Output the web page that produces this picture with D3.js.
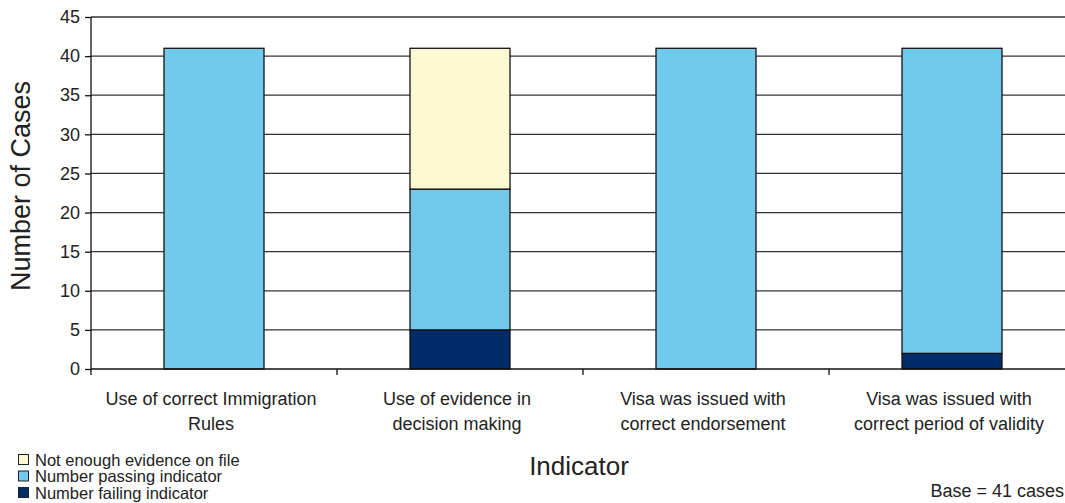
<!DOCTYPE html>
<html><head><meta charset="utf-8">
<script src="https://cdn.jsdelivr.net/npm/d3@7"></script>
<style>body{margin:0;background:#fff}svg{display:block}</style>
</head><body>
<svg id="c" width="1065" height="503"></svg>
<script>
const categories = [["Use of correct Immigration","Rules"],["Use of evidence in","decision making"],["Visa was issued with","correct endorsement"],["Visa was issued with","correct period of validity"]];
const failing = [0, 5, 0, 2];
const passing = [41, 18, 41, 39];
const notEnough = [0, 18, 0, 0];
const yTicks = [0,5,10,15,20,25,30,35,40,45];
const seriesNames = ["Not enough evidence on file","Number passing indicator","Number failing indicator"];
const colors = {fail:"#002D6A", pass:"#72C9EC", none:"#FCF8D2"};

(function(){
const svg = d3.select("#c");
const pl = 91, pr = 1075, pt = 17, pb = 369;
const x = d3.scaleBand().domain(d3.range(categories.length)).range([pl, pr]).paddingInner(0).paddingOuter(0);
const y = d3.scaleLinear().domain([0,45]).range([pb, pt]);
const bw = 100;
const FONT = "Liberation Sans, Arial, sans-serif";

// gridlines
svg.append("g").selectAll("line").data(yTicks.filter(d=>d>0)).join("line")
  .attr("x1", pl).attr("x2", pr).attr("y1", d=>y(d)).attr("y2", d=>y(d))
  .attr("stroke","#333").attr("stroke-width",1.3);

// stacked bars
const rows = categories.map((c,i)=>({i, fail:failing[i], pass:passing[i], none:notEnough[i]}));
const stack = d3.stack().keys(["fail","pass","none"])(rows);
svg.append("g").selectAll("g").data(stack).join("g")
  .attr("fill", d=>colors[d.key])
  .selectAll("rect").data(d=>d.filter(s=>s[1]-s[0]>0)).join("rect")
  .attr("x", d=>x(d.data.i)+x.bandwidth()/2-bw/2).attr("width", bw)
  .attr("y", d=>y(d[1])).attr("height", d=>y(d[0])-y(d[1]))
  .attr("stroke","#111").attr("stroke-width",1.3);

// y axis
const ya = svg.append("g").attr("transform",`translate(${pl},0)`)
  .call(d3.axisLeft(y).tickValues(yTicks).tickSize(6).tickPadding(5));
ya.select(".domain").attr("stroke","#111").attr("stroke-width",1.3).attr("d",`M0,${pt}V${pb}`);
ya.selectAll(".tick line").attr("stroke","#111").attr("stroke-width",1.3);
ya.selectAll(".tick text").attr("font-family",FONT).attr("font-size",18).attr("fill","#222");

// x axis
const xa = svg.append("g").attr("transform",`translate(0,${pb})`);
xa.append("line").attr("x1",pl).attr("x2",pr).attr("stroke","#111").attr("stroke-width",1.3);
xa.selectAll(".t").data(d3.range(categories.length+1)).join("line")
  .attr("x1", d=> d<categories.length ? x(d) : pr).attr("x2", d=> d<categories.length ? x(d) : pr)
  .attr("y1",0).attr("y2",6).attr("stroke","#111").attr("stroke-width",1.3);
const lab = svg.append("g").selectAll("text").data(categories).join("text")
  .attr("text-anchor","middle").attr("font-family",FONT).attr("font-size",18).attr("fill","#222");
lab.each(function(d,i){
  const t = d3.select(this);
  d.forEach((line,k)=>t.append("tspan").attr("x", x(i)+x.bandwidth()/2 - 3).attr("y", 405+k*24.5).text(line));
});

// axis titles
svg.append("text").attr("transform","translate(30,186) rotate(-90)").attr("text-anchor","middle")
  .attr("font-family",FONT).attr("font-size",27).attr("fill","#222").text("Number of Cases");
svg.append("text").attr("x",579).attr("y",475).attr("text-anchor","middle")
  .attr("font-family",FONT).attr("font-size",26).attr("fill","#222").text("Indicator");

// legend
const lg = svg.append("g").selectAll("g").data(seriesNames).join("g")
  .attr("transform",(d,i)=>`translate(18,${460+i*16.5})`);
lg.append("rect").attr("x",0.5).attr("y",-5.5).attr("width",10).attr("height",10)
  .attr("fill",(d,i)=>[colors.none,colors.pass,colors.fail][i]).attr("stroke","#222").attr("stroke-width",1);
lg.append("text").attr("x",17).attr("y",5.5).attr("font-family",FONT).attr("font-size",16.5).attr("fill","#222").text(d=>d);

svg.append("text").attr("x",1064).attr("y",497).attr("text-anchor","end")
  .attr("font-family",FONT).attr("font-size",18).attr("fill","#222").text("Base = 41 cases");
})();
</script>
</body></html>
